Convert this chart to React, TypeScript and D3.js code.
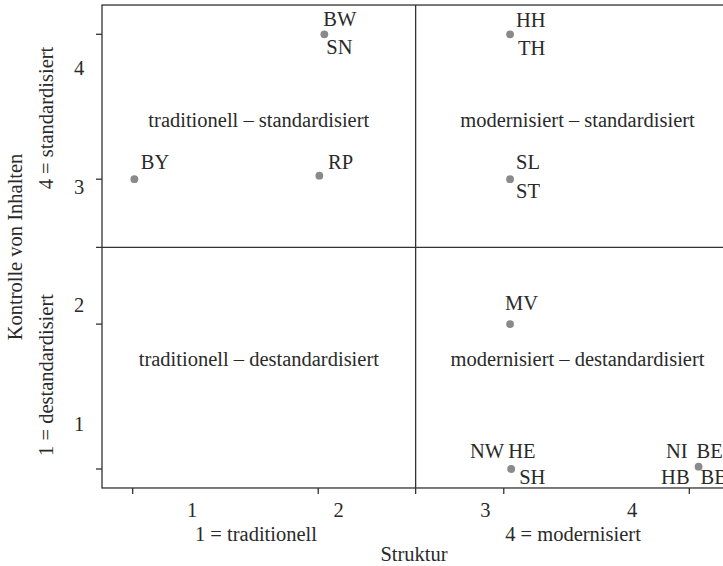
import React from "react";
import * as d3 from "d3";

// ---- data ----
const states = ["BW", "BY", "RP", "HH", "SL", "MV", "NW", "BE"];
const strukturValues = [2.033, 1.009, 2.006, 3.034, 3.034, 3.034, 3.04, 4.05];
const kontrolleValues = [4.0, 3.0, 3.024, 4.0, 3.0, 2.0, 1.0, 1.016];

// point labels: text, index of point it belongs to
const labelTexts = ["BW", "SN", "BY", "RP", "HH", "TH", "SL", "ST", "MV", "NW", "HE", "SH", "NI", "BE", "HB", "BB"];
const labelPoint = [0, 0, 1, 2, 3, 3, 4, 4, 5, 6, 6, 6, 7, 7, 7, 7];

const xTickValues = [1, 2, 3, 4];
const yTickValues = [1, 2, 3, 4];
const xTickLabels = ["1", "2", "3", "4"];
const yTickLabels = ["1", "2", "3", "4"];

const quadrantLabels = [
  "traditionell – standardisiert",
  "modernisiert – standardisiert",
  "traditionell – destandardisiert",
  "modernisiert – destandardisiert",
];
const xAxisTitle = "Struktur";
const xAxisEnds = ["1 = traditionell", "4 = modernisiert"];
const yAxisTitle = "Kontrolle von Inhalten";
const yAxisEnds = ["1 = destandardisiert", "4 = standardisiert"];

// ---- layout (not data) ----
const W = 723;
const H = 566;
const X_MIN = 0.8345;
const X_MAX = 4.27;
const Y_MIN = 0.869;
const Y_MAX = 4.202;
const DIV_X = 2.525;
const DIV_Y = 2.53;

// label placement offsets (px) relative to the point: [dx, dy, anchor]
const labelOffsets: [number, number, string][] = [
  [-1, -8, "start"],
  [2, 20, "start"],
  [6.4, -10, "start"],
  [8.7, -6.4, "start"],
  [6, -7, "start"],
  [8, 21, "start"],
  [6, -10, "start"],
  [6, 19, "start"],
  [-5, -14, "start"],
  [-7, -11, "end"],
  [-3, -11, "start"],
  [8, 15, "start"],
  [-11, -9, "end"],
  [-2, -9, "start"],
  [-9, 17, "end"],
  [2, 17, "start"],
];

const FONT = "Liberation Serif, DejaVu Serif, serif";
const FS = 20.5;
const INK = "#2a2a2a";
const LINE = "#333";
const DOT = "#8a8a8a";

export default function App() {
  const x = d3.scaleLinear().domain([1, 4]).range([132.7, 689.3]);
  const y = d3.scaleLinear().domain([1, 4]).range([469, 34.3]);
  // positions of the (offset) tick numerals as printed in the original
  const xLab = d3.scaleLinear().domain([1, 4]).range([192, 632]);
  const yLab = d3.scaleLinear().domain([1, 4]).range([424, 68]);

  const left = x(X_MIN);
  const right = x(X_MAX);
  const top = y(Y_MAX);
  const bottom = y(Y_MIN);
  const dvx = x(DIV_X);
  const dvy = y(DIV_Y);
  const tick = 6;

  const qx = [(left + dvx) / 2, (dvx + right) / 2];
  const qy = [(top + dvy) / 2 + 1, (dvy + bottom) / 2 - 1.5];

  const ts: React.CSSProperties = { fontFamily: FONT, fontSize: FS };

  return (
    <svg
      width={W}
      height={H}
      style={{ position: "absolute", left: 0, top: 0, background: "#fff", fontFamily: FONT, fontSize: FS }}
    >
      <rect x={0} y={0} width={W} height={H} fill="#fff" />
      {/* frame */}
      <rect x={left} y={top} width={right - left} height={bottom - top} fill="none" stroke={LINE} strokeWidth={1.3} />
      {/* dividers */}
      <line x1={dvx} x2={dvx} y1={top} y2={bottom + tick} stroke={LINE} strokeWidth={1.3} />
      <line x1={left - tick} x2={right} y1={dvy} y2={dvy} stroke={LINE} strokeWidth={1.3} />
      {/* ticks */}
      {xTickValues.map((v) => (
        <line key={"xt" + v} x1={x(v)} x2={x(v)} y1={bottom} y2={bottom + tick} stroke={LINE} strokeWidth={1.3} />
      ))}
      {yTickValues.map((v) => (
        <line key={"yt" + v} x1={left - tick} x2={left} y1={y(v)} y2={y(v)} stroke={LINE} strokeWidth={1.3} />
      ))}
      {/* tick numerals */}
      {xTickValues.map((v, i) => (
        <text key={"xl" + v} style={ts} x={xLab(v)} y={517} textAnchor="middle" fill={INK}>
          {xTickLabels[i]}
        </text>
      ))}
      {yTickValues.map((v, i) => (
        <text key={"yl" + v} style={ts} x={79} y={yLab(v) + 7} textAnchor="middle" fill={INK}>
          {yTickLabels[i]}
        </text>
      ))}
      {/* axis titles */}
      <text style={ts} x={256} y={541} textAnchor="middle" fill={INK}>{xAxisEnds[0]}</text>
      <text style={ts} x={573} y={541} textAnchor="middle" fill={INK}>{xAxisEnds[1]}</text>
      <text style={ts} x={414} y={561} textAnchor="middle" fill={INK}>{xAxisTitle}</text>
      <text style={ts} transform={`translate(53,375) rotate(-90)`} textAnchor="middle" fill={INK}>{yAxisEnds[0]}</text>
      <text style={ts} transform={`translate(53,118) rotate(-90)`} textAnchor="middle" fill={INK}>{yAxisEnds[1]}</text>
      <text style={ts} transform={`translate(22,247) rotate(-90)`} textAnchor="middle" fill={INK}>{yAxisTitle}</text>
      {/* quadrant labels */}
      {quadrantLabels.map((t, i) => (
        <text key={"q" + i} style={ts} x={qx[i % 2]} y={qy[Math.floor(i / 2)]} textAnchor="middle" fill={INK}>
          {t}
        </text>
      ))}
      {/* points */}
      {states.map((s, i) => (
        <circle key={s} cx={x(strukturValues[i])} cy={y(kontrolleValues[i])} r={3.9} fill={DOT} />
      ))}
      {/* point labels */}
      {labelTexts.map((t, i) => {
        const p = labelPoint[i];
        const [dx, dy, anchor] = labelOffsets[i];
        return (
          <text
            key={"pl" + t}
            style={ts}
            x={x(strukturValues[p]) + dx}
            y={y(kontrolleValues[p]) + dy}
            textAnchor={anchor as any}
            fill={INK}
          >
            {t}
          </text>
        );
      })}
    </svg>
  );
}
